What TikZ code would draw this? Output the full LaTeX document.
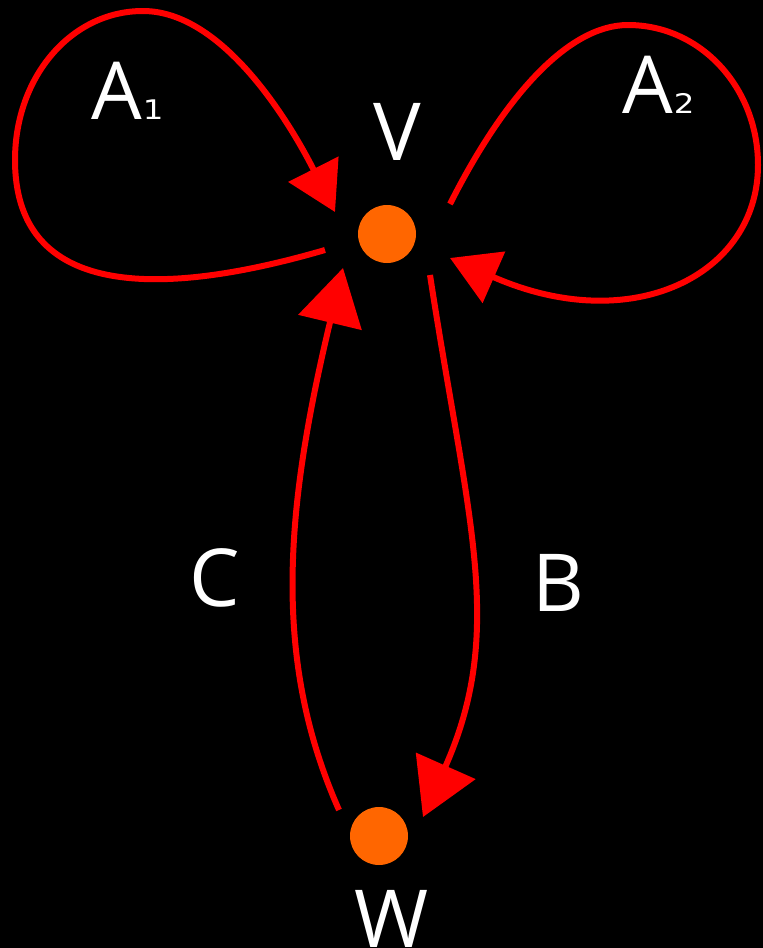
\documentclass[tikz,border=0pt]{standalone}
\usepackage{fontspec}
\setmainfont{Open Sans}
\newfontfamily\subfont[FakeStretch=1.2]{DejaVu Sans}
\usetikzlibrary{arrows.meta,calc}
\definecolor{dotorange}{HTML}{FF6600}
\begin{document}
\begin{tikzpicture}[x=1pt,y=-1pt,
  dotnode/.style={circle,fill=dotorange,minimum size=58pt,inner sep=0pt},
  lbl/.style={text=white,inner sep=0pt,font=\fontsize{80}{96}\selectfont},
  edge/.style={draw=red,line width=6pt},
  bigtip/.style={-{Triangle[length=56pt,width=64pt]}},
  looptip/.style={-{Triangle[length=48pt,width=55pt]}}]
\fill[black] (0,0) rectangle (763,948);
\useasboundingbox (0,0) rectangle (763,948);
\node[dotnode] (V) at (387,234) {};
\node[dotnode] (W) at (379,836) {};
\node[lbl,anchor=base] (lV) at (397,160) {V};
\node[lbl,anchor=base] (lW) at (392,947) {W};
\node[lbl,anchor=base] (lC) at (215,606) {C};
\node[lbl,anchor=base] (lB) at (558,611) {B};
\node[lbl,anchor=base west] (lA1) at (91,119) {A\kern1pt{\subfont\fontsize{27}{27}\selectfont 1}};
\node[lbl,anchor=base west] (lA2) at (622,113) {A\kern1pt{\subfont\fontsize{27}{27}\selectfont 2}};
% loop A1
\coordinate (A1left) at (15,160);
\coordinate (A1top) at (143,11);
\draw[edge,looptip] ($(V)+(-62,16)$) .. controls (143,303) and (15,290) .. (A1left)
  .. controls (15,77) and (71,11) .. (A1top)
  .. controls (223,11) and (290,123) .. ($(V)+(-52,-22)$);
% loop A2
\coordinate (A2top) at (628,25);
\coordinate (A2right) at (758,165);
\draw[edge,looptip] ($(V)+(63,-30)$) .. controls (504,97) and (568,25) .. (A2top)
  .. controls (701,25) and (758,88) .. (A2right)
  .. controls (758,275) and (632,338) .. ($(V)+(63,24)$);
% B
\draw[edge,bigtip] ($(V)+(43,41)$) .. controls (468,522) and (506,630) .. ($(W)+(44,-19)$);
% C
\draw[edge,bigtip] ($(W)+(-40,-26)$) .. controls (272,659) and (285,510) .. ($(V)+(-44,34)$);
\end{tikzpicture}
\end{document}
